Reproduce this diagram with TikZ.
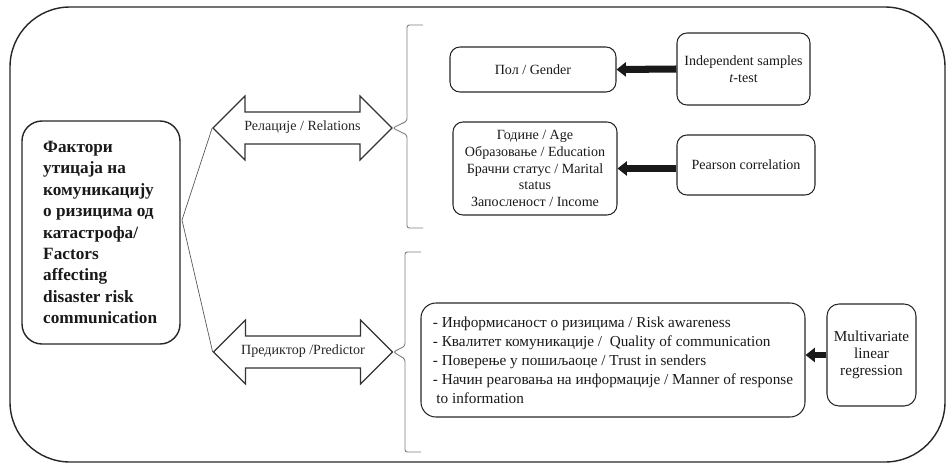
\documentclass[tikz,border=0pt]{standalone}
\usepackage{fontspec}
\setmainfont{Liberation Serif}
\usetikzlibrary{positioning, calc, shapes.arrows, arrows.meta}

\begin{document}
\begin{tikzpicture}[x=0.03cm, y=-0.03cm,
    box/.style={draw=black!85, line width=0.9pt, rounded corners=0.3cm, align=center,
      text=black!90, font=\fontsize{12}{14.3}\selectfont},
    bigarrow/.style={double arrow, draw=black!80, line width=1pt, double arrow head extend=0.48cm,
      minimum height=5.37cm, inner ysep=0.27cm, inner xsep=1pt, text height=8pt, text depth=3pt,
      text=black!85, font=\fontsize{12}{14}\selectfont},
    thickarrow/.style={draw=black!90, line width=6pt, -{Triangle[length=8pt,width=12pt]}},
    thinline/.style={draw=black!65, line width=0.6pt},
    bracket/.style={draw=black!50, line width=0.8pt, rounded corners=2pt}]
  \useasboundingbox (0,0) rectangle (946,464);
  \draw[line width=1.2pt, draw=black!85, rounded corners=1.8cm] (10,7) rectangle (945,462);

  \node[box, minimum width=4.74cm, minimum height=6.69cm, rounded corners=0.6cm, line width=1.2pt] (factors) at (101,232.5) {};
  \node[anchor=west, align=left, inner sep=0pt, text=black!90,
    font=\fontsize{14.7}{18.3}\selectfont\bfseries] (factorstext) at (43,232.5)
    {Фактори\\утицаја на\\комуникацију\\о ризицима од\\катастрофа/\\Factors\\affecting\\disaster risk\\communication};

  \node[bigarrow] (rel) at (302.5,128) {Релације / Relations};
  \node[bigarrow] (pred) at (303,352) {Предиктор /Predictor};
  \coordinate (hub) at (182,220);
  \draw[thinline] (rel.180) -- (hub) -- (pred.180);

  \draw[bracket] (423,25) -- (407,25) -- (407,121) -- (rel.0) -- (407,135) -- (407,228) -- (423,228);
  \draw[bracket] (421,252) -- (405,252) -- (405,346) -- (pred.0) -- (405,359) -- (405,452) -- (421,452);

  \node[box, minimum width=4.98cm, minimum height=1.35cm] (gender) at (533,69.5) {Пол / Gender};
  \node[box, minimum width=3.99cm, minimum height=2.16cm] (ttest) at (743.5,69) {Independent samples\\\textit{t}-test};
  \node[box, minimum width=4.92cm, minimum height=2.79cm] (age) at (535,168.5)
    {Године / Age\\Образовање / Education\\Брачни статус / Marital\\status\\Запосленост / Income};
  \node[box, minimum width=4.14cm, minimum height=1.8cm] (pearson) at (746,165) {Pearson correlation};
  \node[box, minimum width=11.52cm, minimum height=3.42cm, align=left, rounded corners=0.45cm,
    font=\fontsize{13}{16.3}\selectfont] (factorlist) at (613,360)
    {- Информисаност о ризицима / Risk awareness\\
     - Квалитет комуникације /\ \ Quality of communication\\
     - Поверење у пошиљаоце / Trust in senders\\
     - Начин реаговања на информације / Manner of response\\
     \hspace*{3pt}to information};
  \node[box, minimum width=2.67cm, minimum height=3.06cm, rounded corners=0.36cm,
    font=\fontsize{13}{14.5}\selectfont] (mlr) at (871.5,355) {Multivariate\\linear\\regression};

  \draw[thickarrow] (ttest.west) -- (gender.east);
  \draw[thickarrow] (pearson.west |- age.east) -- (age.east);
  \draw[thickarrow, line width=5pt] (mlr.west) -- (mlr.west -| factorlist.east);
\end{tikzpicture}
\end{document}
